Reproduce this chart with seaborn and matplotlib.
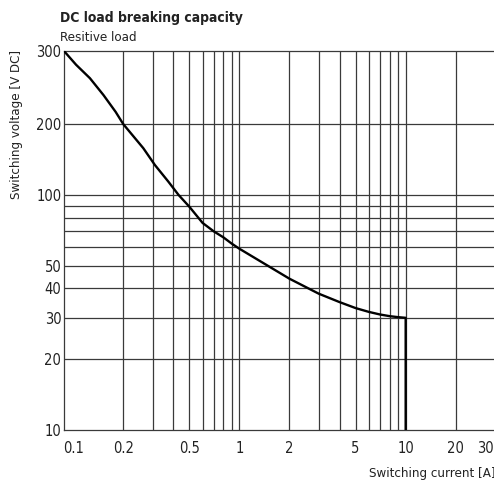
import numpy as np
import pandas as pd
import matplotlib
matplotlib.use("Agg")
import matplotlib.pyplot as plt
import seaborn as sns
from matplotlib.ticker import FixedLocator, NullFormatter

# data
current = [0.088, 0.104, 0.126, 0.152, 0.18, 0.2, 0.264, 0.31, 0.373, 0.43, 0.5, 0.6,
           0.7, 0.8, 0.9, 1, 2, 3, 4, 5, 6, 7, 8, 9, 10, 10]
voltage = [300, 278, 258, 235, 214, 200, 158, 134, 114, 100, 89, 76,
           70, 66, 62, 59, 44, 38, 35, 33, 31.8, 31, 30.5, 30.2, 30, 10]

x_ticks = [0.1, 0.2, 0.5, 1, 2, 5, 10, 20, 30]
x_tick_labels = ["0.1", "0.2", "0.5", "1", "2", "5", "10", "20", "30"]
x_grid = [0.2, 0.3, 0.4, 0.5, 0.6, 0.7, 0.8, 0.9, 1, 2, 3, 4, 5, 6, 7, 8, 9, 10, 20]

y_ticks = [10, 20, 30, 40, 50, 100, 200, 300]
y_tick_labels = ["10", "20", "30", "40", "50", "100", "200", "300"]
y_grid = [20, 30, 40, 50, 60, 70, 80, 90, 100, 200]

sns.set_style("white")
plt.rcParams["font.family"] = ["DejaVu Sans"]
plt.rcParams["font.stretch"] = "condensed"

# the original chart stretches the 200-300 V band on its log axis
K = 1.766
L200 = np.log10(200)

def fwd(y):
    y = np.asarray(y, dtype=float)
    with np.errstate(divide="ignore", invalid="ignore"):
        l = np.log10(np.where(y > 0, y, np.nan))
    return np.where(l > L200, L200 + K * (l - L200), l)

def inv(t):
    t = np.asarray(t, dtype=float)
    l = np.where(t > L200, L200 + (t - L200) / K, t)
    return 10 ** l

fig = plt.figure(figsize=(4.94, 4.82), dpi=100)
ax = fig.add_axes([64 / 494, (482 - 430) / 482, 1 - 64 / 494, (430 - 51) / 482])

df = pd.DataFrame({"current": current, "voltage": voltage})
ax.set_xscale("log")
ax.set_yscale("function", functions=(fwd, inv))
sns.lineplot(data=df, x="current", y="voltage", sort=False, estimator=None,
             color="black", lw=1.7, ax=ax, zorder=5)

ax.set_xlim(0.088, 34)
ax.set_ylim(10, 300)

ax.xaxis.remove_overlapping_locs = False
ax.yaxis.remove_overlapping_locs = False
ax.set_xticks(x_ticks, x_tick_labels)
ax.xaxis.set_minor_locator(FixedLocator(x_grid))
ax.xaxis.set_minor_formatter(NullFormatter())
ax.set_yticks(y_ticks, y_tick_labels)
ax.yaxis.set_minor_locator(FixedLocator(y_grid))
ax.yaxis.set_minor_formatter(NullFormatter())

ax.grid(False)
ax.grid(which="minor", color="#3a3a3a", lw=0.9)
ax.tick_params(which="both", length=0, labelsize=10.5, colors="#222222")
ax.tick_params(axis="x", pad=8)
ax.tick_params(axis="y", pad=2)

for side in ["left", "bottom", "top"]:
    ax.spines[side].set_color("#3a3a3a")
    ax.spines[side].set_linewidth(0.9)
ax.spines["right"].set_visible(False)

ax.set_xlabel("")
ax.set_ylabel("")

fig.text(60 / 494, 1 - 22 / 482, "DC load breaking capacity", fontsize=10,
         fontweight="bold", color="#222222", ha="left", va="baseline")
fig.text(60 / 494, 1 - 41 / 482, "Resitive load", fontsize=9.5,
         color="#222222", ha="left", va="baseline")
fig.text(17 / 494, 1 - 50 / 482, "Switching voltage [V DC]", fontsize=9.5,
         color="#222222", rotation=90, ha="center", va="top")
fig.text(369 / 494, 1 - 474 / 482, "Switching current [A]", fontsize=9.5,
         color="#222222", ha="left", va="center")

fig.savefig("out.png", dpi=100)
